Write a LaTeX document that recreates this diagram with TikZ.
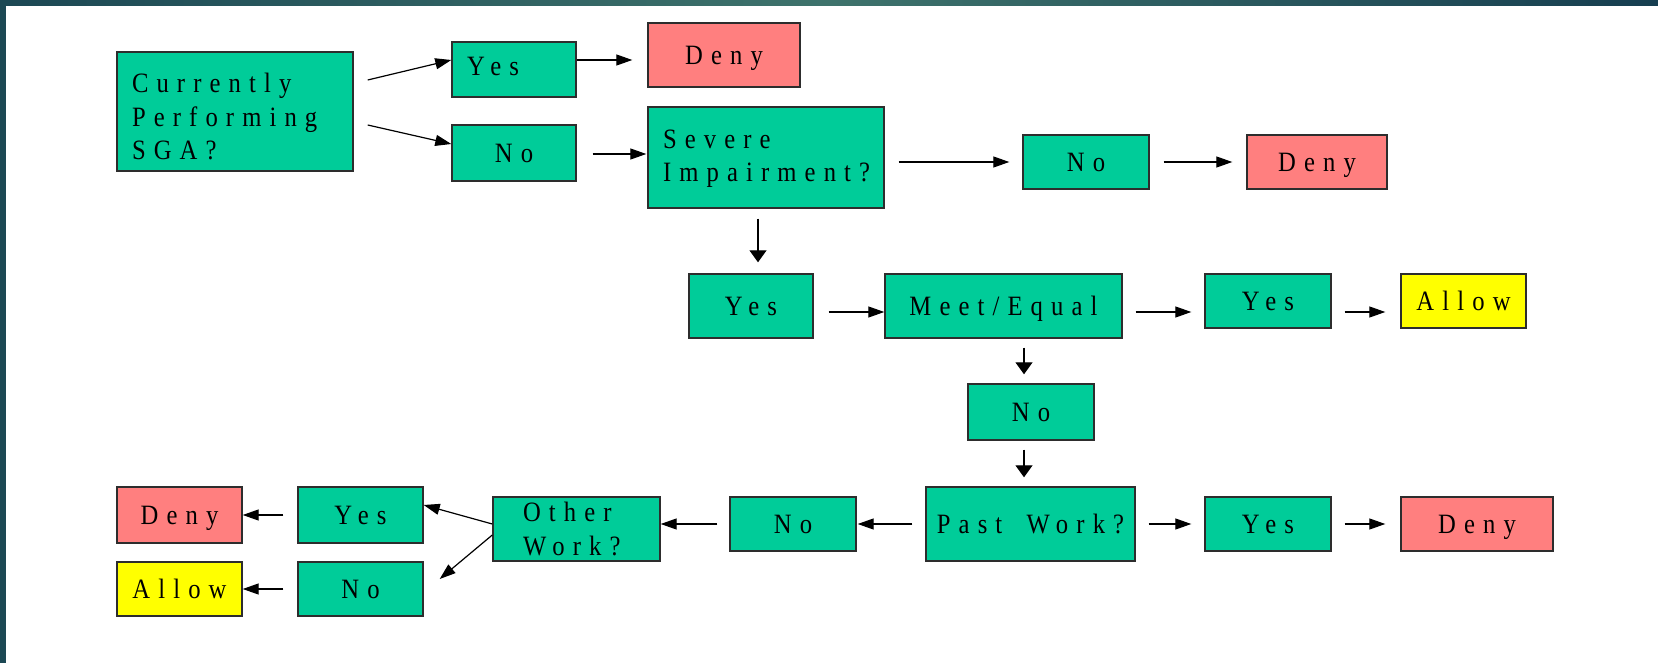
\documentclass[tikz,border=0pt]{standalone}
\usepackage{fontspec}
\setmainfont{Liberation Serif}[LetterSpace=29.0, FakeStretch=0.88]
\usetikzlibrary{arrows.meta,calc}
\definecolor{boxgreen}{RGB}{0,204,153}
\definecolor{boxred}{RGB}{255,127,127}
\definecolor{boxyellow}{RGB}{255,255,0}
\definecolor{boxline}{RGB}{45,45,45}
\definecolor{frameA}{RGB}{28,72,84}
\definecolor{frameB}{RGB}{62,115,108}
\definecolor{frameC}{RGB}{22,62,80}
\tikzset{
  box/.style={draw=boxline, line width=1.4pt, rectangle, inner sep=0pt,
    font=\fontsize{28}{33.5}\selectfont},
  one/.style={box, text depth=0pt},
  green/.style={fill=boxgreen},
  red/.style={fill=boxred},
  yellow/.style={fill=boxyellow},
  arr/.style={draw=black, line width=1.2pt, -{Triangle[length=16pt,width=11pt]}},
  varr/.style={draw=black, line width=1.2pt, -{Triangle[length=12pt,width=17pt]}},
}
\begin{document}
\begin{tikzpicture}[x=1pt,y=-1pt]
\useasboundingbox (0,0) rectangle (1658,663);
\fill[white] (0,0) rectangle (1658,663);
\shade[left color=frameA, right color=frameC, middle color=frameB] (0,0) rectangle (1658,6);
\fill[frameA] (0,0) rectangle (6,663);

% nodes
\node[box, green, minimum width=236pt, minimum height=119pt, text width=206pt, inner xsep=15pt, align=left] (cp) at (235,111.5) {\rule{0pt}{30pt}Currently\\Performing\\SGA?};
\node[one, green, minimum width=124pt, minimum height=55pt, text width=94pt, inner xsep=15pt, align=left, text depth=7pt] (y1) at (514,69.5) {Yes};
\node[one, red, minimum width=152pt, minimum height=64pt] (d1) at (724,55) {Deny};
\node[one, green, minimum width=124pt, minimum height=56pt] (n1) at (514,153) {No};
\node[box, green, minimum width=236pt, minimum height=101pt, text width=206pt, inner xsep=15pt, align=left] (sev) at (766,157.5) {\rule{0pt}{21pt}Severe\\Impairment?};
\node[one, green, minimum width=126pt, minimum height=54pt] (n2) at (1086,162) {No};
\node[one, red, minimum width=140pt, minimum height=54pt] (d2) at (1317,162) {Deny};
\node[one, green, minimum width=124pt, minimum height=64pt] (y2) at (751,306) {Yes};
\node[one, green, minimum width=237pt, minimum height=64pt] (meet) at (1003.5,306) {Meet/Equal};
\node[one, green, minimum width=126pt, minimum height=54pt] (y3) at (1268,301) {Yes};
\node[one, yellow, minimum width=125pt, minimum height=54pt] (a1) at (1463.5,301) {Allow};
\node[one, green, minimum width=126pt, minimum height=56pt] (n3) at (1031,412) {No};
\node[one, green, minimum width=209pt, minimum height=74pt] (past) at (1030.5,524) {Past\hspace{10pt} Work?};
\node[one, green, minimum width=126pt, minimum height=54pt] (y4) at (1268,524) {Yes};
\node[one, red, minimum width=152pt, minimum height=54pt] (d3) at (1477,524) {Deny};
\node[one, green, minimum width=126pt, minimum height=54pt] (n4) at (793,524) {No};
\node[box, green, minimum width=167pt, minimum height=64pt, text width=107pt, inner xsep=30pt, align=left] (other) at (576.5,529) {Other\\Work?};
\node[one, green, minimum width=125pt, minimum height=56pt] (y5) at (360.5,515) {Yes};
\node[one, green, minimum width=125pt, minimum height=54pt] (n5) at (360.5,589) {No};
\node[one, red, minimum width=125pt, minimum height=56pt] (d4) at (179.5,515) {Deny};
\node[one, yellow, minimum width=125pt, minimum height=54pt] (a2) at (179.5,589) {Allow};

% connectors
\draw[arr] ($(cp.east)+(14,-31.5)$) -- ($(y1.west)+(0,-9.5)$);
\draw[arr] ($(cp.east)+(14,13.5)$) -- ($(n1.west)+(0,-9)$);
\draw[arr] ($(y1.east)+(0,-9.5)$) -- ($(d1.west)+(-15,5)$);
\draw[arr] ($(n1.east)+(16,1)$) -- ($(sev.west)+(-1,-3.5)$);
\draw[arr] ($(sev.east)+(14,4.5)$) -- ($(n2.west)+(-13,0)$);
\draw[arr] ($(n2.east)+(14,0)$) -- ($(d2.west)+(-14,0)$);
\draw[varr] ($(sev.south)+(-8,10)$) -- ($(y2.north)+(7,-11)$);
\draw[arr] ($(y2.east)+(15,6)$) -- ($(meet.west)+(0,6)$);
\draw[arr] ($(meet.east)+(13,6)$) -- ($(y3.west)+(-13,11)$);
\draw[arr] ($(y3.east)+(13,11)$) -- ($(a1.west)+(-15,11)$);
\draw[varr] ($(meet.south)+(20.5,9)$) -- ($(n3.north)+(-7,-9)$);
\draw[varr] ($(n3.south)+(-7,9)$) -- ($(past.north)+(-6.5,-9)$);
\draw[arr] ($(past.west)+(-13,0)$) -- ($(n4.east)+(1,0)$);
\draw[arr] ($(n4.west)+(-12,0)$) -- ($(other.east)+(0,-5)$);
\draw[arr] ($(other.west)+(0,-5)$) -- ($(y5.east)+(0,-10)$);
\draw[arr] ($(other.west)+(0,6)$) -- ($(n5.east)+(16,-10)$);
\draw[arr] ($(y5.west)+(-14,0)$) -- (d4.east);
\draw[arr] ($(n5.west)+(-14,0)$) -- (a2.east);
\draw[arr] ($(past.east)+(13,0)$) -- ($(y4.west)+(-13,0)$);
\draw[arr] ($(y4.east)+(13,0)$) -- ($(d3.west)+(-15,0)$);
\end{tikzpicture}
\end{document}
